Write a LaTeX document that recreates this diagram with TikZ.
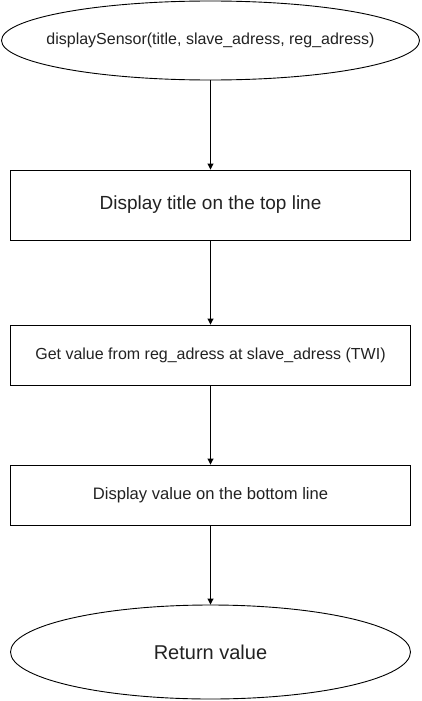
\documentclass[tikz,border=0pt]{standalone}
\usepackage{fontspec}
\setmainfont{Liberation Sans}
\usetikzlibrary{shapes.geometric,arrows.meta}
\definecolor{txt}{HTML}{222222}
\tikzset{
  base/.style={draw=black, line width=0.9pt, inner sep=0pt, text=txt, anchor=center},
  oval/.style={base, ellipse, inner xsep=-40pt},
  stepbox/.style={base, rectangle, minimum width=400pt},
  conn/.style={draw=black, line width=0.9pt, -{Triangle[length=6pt,width=6pt]}},
}
\newcommand{\fsz}[1]{\fontsize{#1}{#1}\selectfont}
\begin{document}
\begin{tikzpicture}[x=1pt,y=-1pt]
\useasboundingbox (0,0) rectangle (421,701);
\node[oval, minimum width=418pt, minimum height=79pt] (start) at (210.5,40.5) {\fsz{16}displaySensor(title, slave\_adress, reg\_adress)};
\node[stepbox, minimum height=70pt] (s1) at (210.5,205) {\fsz{19}Display title on the top line};
\node[stepbox, minimum height=60pt] (s2) at (210.5,355) {\fsz{16}Get value from reg\_adress at slave\_adress (TWI)};
\node[stepbox, minimum height=60pt] (s3) at (210.5,495) {\fsz{16.6}Display value on the bottom line};
\node[oval, minimum width=400pt, minimum height=94pt] (end) at (210.5,652) {\fsz{20}Return value};
\draw[conn] (start) -- (s1);
\draw[conn] (s1) -- (s2);
\draw[conn] (s2) -- (s3);
\draw[conn] (s3) -- (end);
\end{tikzpicture}
\end{document}
